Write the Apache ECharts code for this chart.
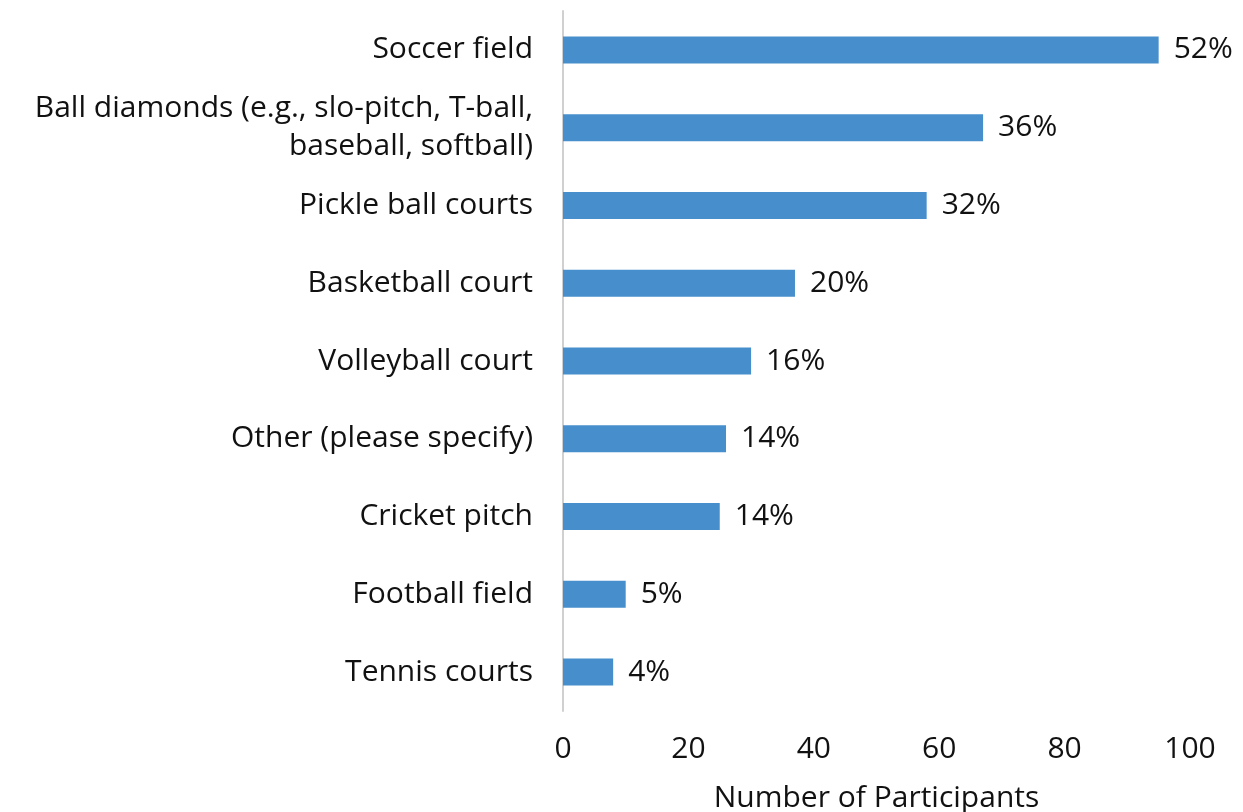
<!DOCTYPE html>
<html><head><meta charset="utf-8">
<script src="https://cdn.jsdelivr.net/npm/echarts@6/dist/echarts.min.js"></script>
<style>html,body{margin:0;padding:0;background:#fff}#c{width:1243px;height:812px}</style>
</head><body><div id="c"></div>
<script>
const categories = ["Soccer field","Ball diamonds (e.g., slo-pitch, T-ball,\nbaseball, softball)","Pickle ball courts","Basketball court","Volleyball court","Other (please specify)","Cricket pitch","Football field","Tennis courts"];
const participants = [95, 67, 58, 37, 30, 26, 25, 10, 8];
const percentLabels = ["52%","36%","32%","20%","16%","14%","14%","5%","4%"];
const xTicks = [0, 20, 40, 60, 80, 100];

const FONT = "Open Sans";
const FS = 30;
const chart = echarts.init(document.getElementById('c'), null, {renderer:'canvas'});
chart.setOption({
  animation: false,
  grid: {left: 563, right: 53, top: 11, bottom: 101, containLabel: false, outerBoundsMode: 'none'},
  xAxis: {
    type: 'value', min: xTicks[0], max: xTicks[xTicks.length-1], interval: 20,
    name: 'Number of Participants', nameLocation: 'middle', nameGap: 72,
    nameTextStyle: {fontFamily: FONT, fontSize: FS, color: '#111'},
    axisLine: {show: false}, axisTick: {show: false}, splitLine: {show: false},
    axisLabel: {fontFamily: FONT, fontSize: FS, color: '#111', margin: 23}
  },
  yAxis: {
    type: 'category', inverse: true, data: categories,
    axisLine: {show: true, lineStyle: {color: '#d0d0d0', width: 2}},
    axisTick: {show: false},
    axisLabel: {fontFamily: FONT, fontSize: FS, color: '#111', margin: 30, align: 'right', lineHeight: 38}
  },
  series: [{
    type: 'bar', data: participants, barWidth: 27,
    itemStyle: {color: '#478fcc'},
    label: {show: true, position: 'right', distance: 15, fontFamily: FONT, fontSize: FS, color: '#111',
      formatter: p => percentLabels[p.dataIndex]}
  }]
});
</script></body></html>
